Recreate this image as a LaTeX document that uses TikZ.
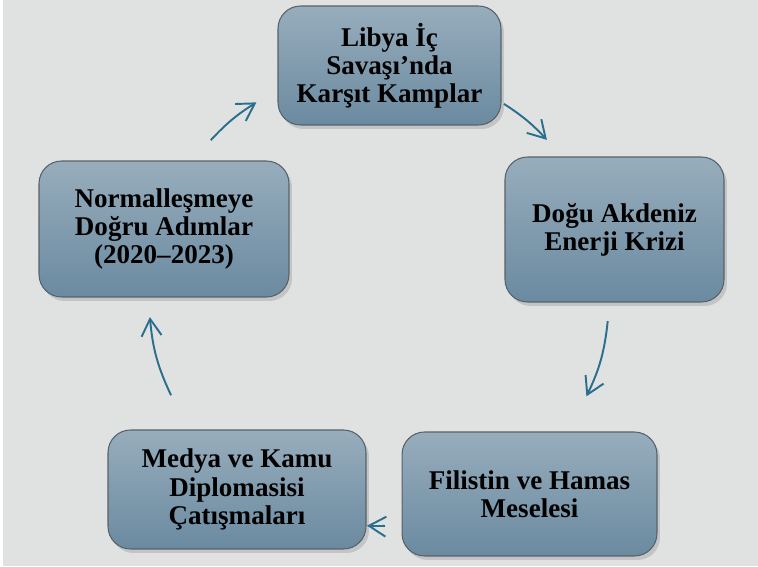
\documentclass[tikz,border=0pt]{standalone}
\usepackage{fontspec}
\setmainfont{Liberation Serif}
\usetikzlibrary{arrows.meta, shadows, calc}

\definecolor{bgpanel}{HTML}{E0E2E1}
\definecolor{boxtop}{HTML}{97ADBC}
\definecolor{boxbot}{HTML}{6B8AA0}
\definecolor{boxline}{HTML}{56626B}
\definecolor{cycblue}{HTML}{2B6F8F}

\begin{document}
\begin{tikzpicture}[
  x=0.02cm, y=0.02cm,
  phase/.style={rounded corners=0.45cm, draw=boxline, line width=0.6pt, top color=boxtop, bottom color=boxbot, align=center, inner sep=0pt, font=\bfseries\fontsize{15.4}{16}\selectfont, drop shadow={shadow xshift=0.6mm, shadow yshift=-0.8mm, opacity=0.3}},
  cyc/.style={-{Straight Barb[length=3.4mm,width=4mm]}, line width=1.1pt, cycblue}
]
\useasboundingbox (0,0) rectangle (758,566);
\fill[white] (0,0) rectangle (758,566);
\fill[bgpanel] (3,0) rectangle (758,566);

% Nodes
\node[phase, minimum width=4.46cm, minimum height=2.38cm] (libya) at (389.5,500.5) {Libya İç\\Savaşı’nda\\Karşıt Kamplar};
\node[phase, minimum width=4.38cm, minimum height=2.9cm] (dogu) at (614.5,336.5) {Doğu Akdeniz\\Enerji Krizi};
\node[phase, minimum width=5.1cm, minimum height=2.48cm] (filistin) at (529.5,72) {Filistin ve Hamas\\Meselesi};
\node[phase, minimum width=5.16cm, minimum height=2.38cm] (medya) at (237,76.5) {Medya ve Kamu\\Diplomasisi\\Çatışmaları};
\node[phase, minimum width=5cm, minimum height=2.72cm] (normal) at (164,337) {Normalleşmeye\\Doğru Adımlar\\(2020–2023)};

% Cycle arrows
\coordinate (hub) at (379,269);
\coordinate (n2l-a) at ($(hub)+(137:230)$);
\coordinate (n2l-b) at ($(hub)+(122.2:230)$);
\coordinate (l2d-a) at ($(hub)+(57.1:230)$);
\coordinate (l2d-b) at ($(hub)+(43.1:230)$);
\coordinate (d2f-a) at ($(hub)+(-6:230)$);
\coordinate (d2f-b) at ($(hub)+(-25.6:230)$);
\coordinate (f2m-a) at ($(hub)+(-88.5:229)$);
\coordinate (f2m-b) at ($(hub)+(-93:229)$);
\coordinate (m2n-a) at ($(hub)+(205.3:230)$);
\coordinate (m2n-b) at ($(hub)+(185:230)$);

\draw[cyc] (n2l-a) to[bend left=7.4] (n2l-b);
\draw[cyc] (l2d-a) to[bend left=7] (l2d-b);
\draw[cyc] (d2f-a) to[bend left=9.8] (d2f-b);
\draw[cyc] (f2m-a) to[bend left=2.2] (f2m-b);
\draw[cyc] (m2n-a) to[bend left=10.1] (m2n-b);

\end{tikzpicture}
\end{document}
